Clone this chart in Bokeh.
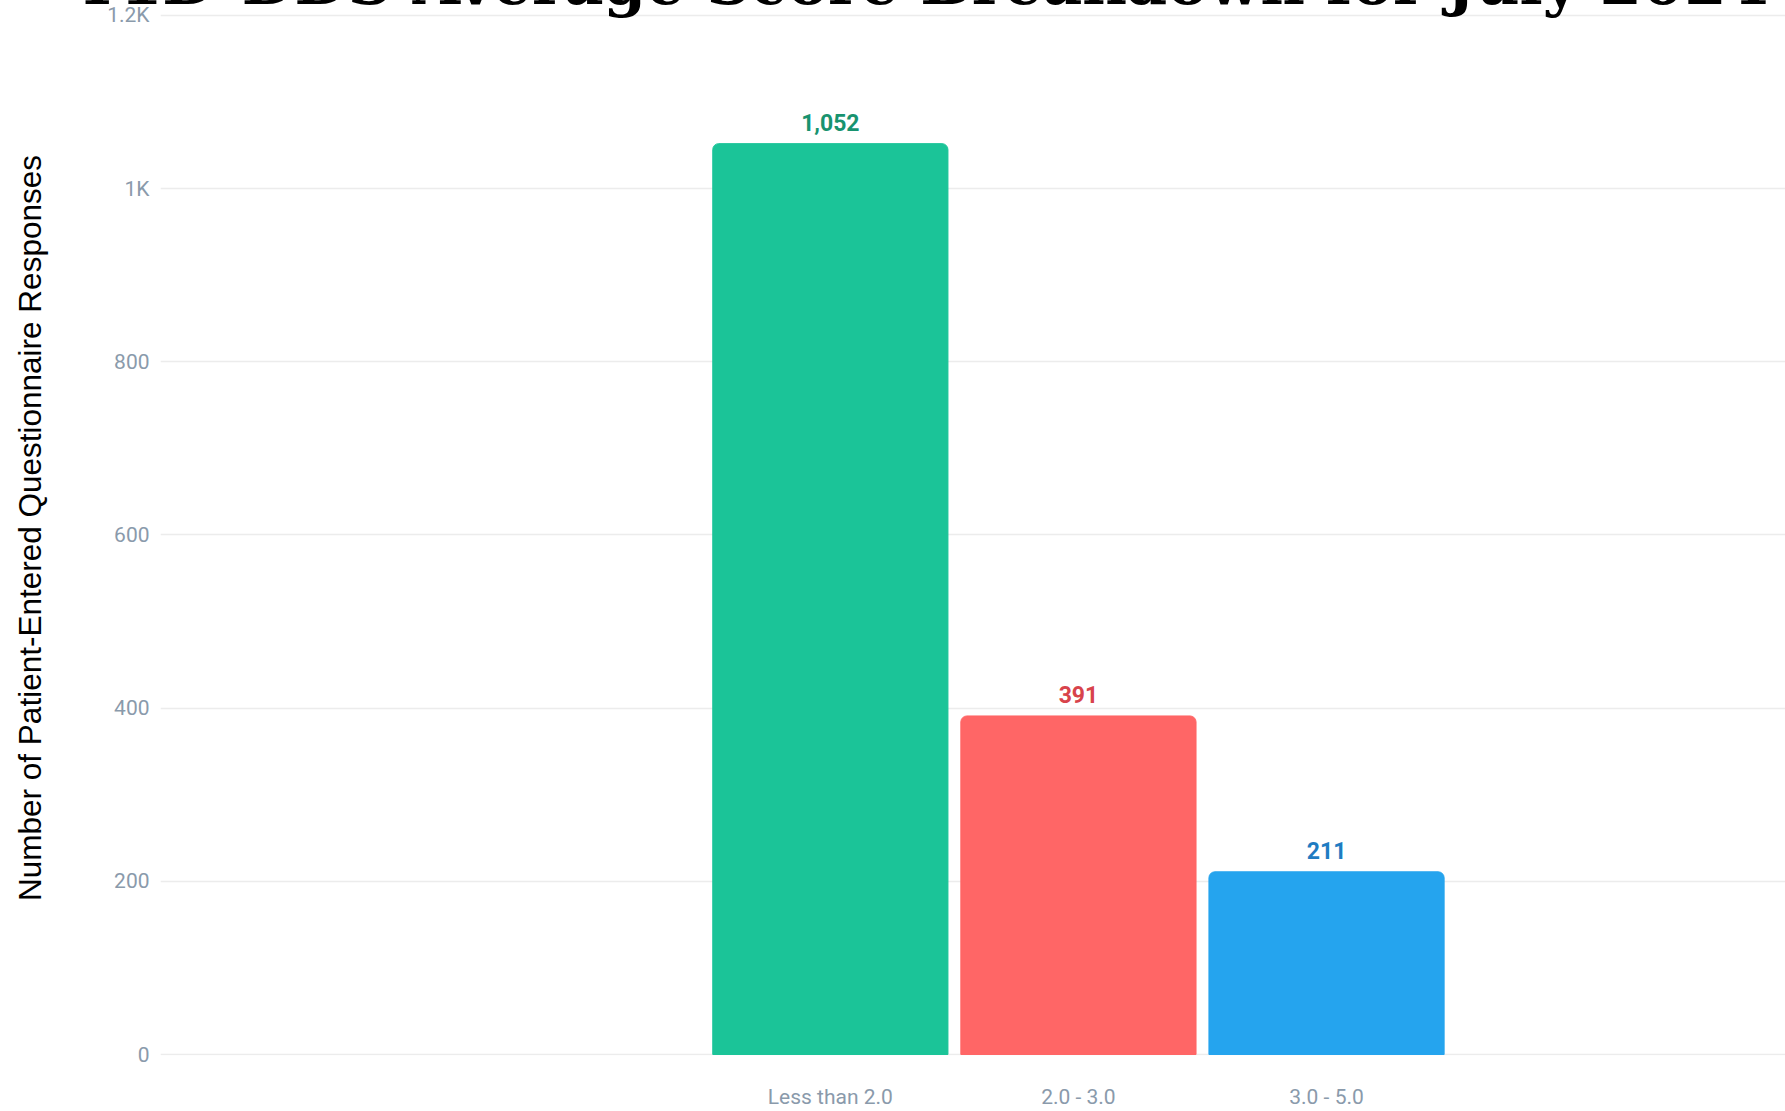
from bokeh.plotting import figure
from bokeh.models import ColumnDataSource, FixedTicker, LabelSet, Label, Range1d
from bokeh.core.properties import field, value
from bokeh.embed import file_html
from bokeh.resources import INLINE

# ---- data ----
categories = ["Less than 2.0", "2.0 - 3.0", "3.0 - 5.0"]
counts = [1052, 391, 211]
value_labels = ["1,052", "391", "211"]
bar_colors = ["#1bc498", "#ff6666", "#25a4ee"]
label_colors = ["#18936f", "#d8434b", "#1f7cc2"]
y_ticks = [0, 200, 400, 600, 800, 1000, 1200]
y_tick_labels = ["0", "200", "400", "600", "800", "1K", "1.2K"]
title_text = "T1D-DDS Average Score Breakdown for July 2024"
y_title = "Number of Patient-Entered Questionnaire Responses"

positions = [i + 1 for i in range(len(categories))]

source = ColumnDataSource(dict(
    x=positions, top=counts, color=bar_colors,
    label=value_labels, label_color=label_colors,
))

TOP_PANEL = 71  # height of the title panel, hidden above the window

p = figure(
    width=1785, height=1111 + TOP_PANEL, output_backend="svg", toolbar_location=None,
    x_range=Range1d(-1.70, 4.85), y_range=Range1d(-1.15, 1217.3),
    min_border_left=160, min_border_right=0, min_border_top=0, min_border_bottom=54,
)
p.styles = {"margin-top": f"-{TOP_PANEL}px"}
p.outline_line_color = None
p.background_fill_color = "white"
p.border_fill_color = "white"

p.vbar(x="x", top="top", bottom=0, width=0.948, color="color", source=source,
       border_radius=(6, 6, 0, 0))

labels = LabelSet(x="x", y="top", text="label", source=source,
                  text_color=field("label_color"), text_font=value("Roboto"),
                  text_font_style="bold", text_font_size=value("23px"),
                  text_align="center", text_baseline="middle", y_offset=21,
                  background_fill_color="white")
p.add_layout(labels)

# axes
p.xaxis.ticker = FixedTicker(ticks=positions)
p.xaxis.major_label_overrides = {pos: c for pos, c in zip(positions, categories)}
p.xaxis.axis_line_color = None
p.xaxis.major_tick_line_color = None
p.xaxis.minor_tick_line_color = None
p.xaxis.major_tick_out = 0
p.xaxis.major_tick_in = 0
p.xaxis.minor_tick_out = 0
p.xaxis.major_label_text_font = "Roboto"
p.xaxis.major_label_text_font_size = "21px"
p.xaxis.major_label_text_color = "#8a9aab"
p.xaxis.major_label_standoff = 29

p.yaxis.ticker = FixedTicker(ticks=y_ticks)
p.yaxis.major_label_overrides = {t: l for t, l in zip(y_ticks, y_tick_labels)}
p.yaxis.axis_line_color = None
p.yaxis.major_tick_line_color = None
p.yaxis.minor_tick_line_color = None
p.yaxis.major_tick_out = 0
p.yaxis.major_tick_in = 0
p.yaxis.minor_tick_out = 0
p.yaxis.major_label_text_font = "Roboto"
p.yaxis.major_label_text_font_size = "21px"
p.yaxis.major_label_text_color = "#8a9aab"
p.yaxis.major_label_standoff = 11
p.yaxis.axis_label = y_title
p.yaxis.axis_label_text_font = "Liberation Sans"
p.yaxis.axis_label_text_font_style = "normal"
p.yaxis.axis_label_text_font_size = "31.5px"
p.yaxis.axis_label_text_color = "black"
p.yaxis.axis_label_standoff = 56

p.xgrid.grid_line_color = None
p.ygrid.grid_line_color = "#ececec"
p.ygrid.grid_line_width = 1.5

title = Label(x=-86, y=18, x_units="screen", y_units="screen",
              text=title_text, text_font="DejaVu Serif",
              text_font_style="bold", text_font_size="61px", text_color="black",
              text_align="left", text_baseline="alphabetic")
p.add_layout(title, "above")

open("out.html", "w").write(file_html(p, INLINE))
